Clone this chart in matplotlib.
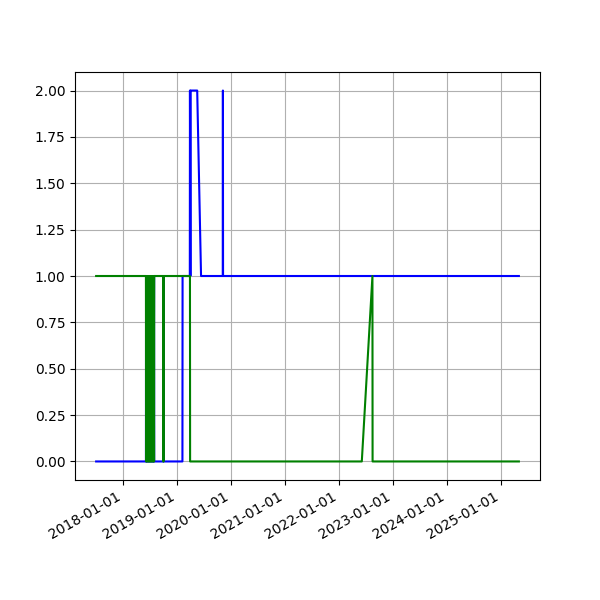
import pandas as pd
import matplotlib
matplotlib.use('Agg')
from matplotlib import pyplot as plt
import matplotlib.dates as mdates

# blue series: change points (date, value)
blue_dates = ['2017-07-01', '2018-06-03', '2018-06-04', '2018-06-07', '2018-06-10', '2018-06-13',
              '2018-06-16', '2018-06-19', '2018-06-22', '2018-06-25', '2018-06-28', '2018-07-01',
              '2018-07-04', '2018-07-07', '2018-07-10', '2018-07-13', '2018-07-16', '2018-07-19',
              '2018-07-22', '2018-07-25', '2018-07-28', '2018-07-29',
              '2018-09-27', '2018-09-28', '2018-10-01', '2018-10-02',
              '2019-02-05', '2019-02-06', '2019-03-27', '2019-03-28', '2019-03-31', '2019-04-02',
              '2019-04-05', '2019-05-16', '2019-06-11', '2019-11-05', '2019-11-06', '2019-11-07',
              '2025-05-01']
blue_vals = [0, 0, 1, 0, 1, 0,
             1, 0, 1, 0, 1, 0,
             1, 0, 1, 0, 1, 0,
             1, 0, 1, 0,
             0, 1, 1, 0,
             0, 1, 1, 2, 1, 2,
             2, 2, 1, 1, 2, 1,
             1]

# green series: change points (date, value)
green_dates = ['2017-07-01', '2018-06-03', '2018-06-04', '2018-06-07', '2018-06-10', '2018-06-13',
               '2018-06-16', '2018-06-19', '2018-06-22', '2018-06-25', '2018-06-28', '2018-07-01',
               '2018-07-04', '2018-07-07', '2018-07-10', '2018-07-13', '2018-07-16', '2018-07-19',
               '2018-07-22', '2018-07-25', '2018-07-28', '2018-07-29',
               '2018-09-27', '2018-09-28', '2018-10-01', '2018-10-02',
               '2019-03-28', '2019-03-29', '2022-06-03', '2022-08-14', '2022-08-15',
               '2025-05-01']
green_vals = [1, 1, 0, 1, 0, 1,
              0, 1, 0, 1, 0, 1,
              0, 1, 0, 1, 0, 1,
              0, 1, 0, 1,
              1, 0, 0, 1,
              1, 0, 0, 1, 0,
              0]

fig, ax = plt.subplots(figsize=(6, 6), dpi=100)
ax.plot(pd.to_datetime(blue_dates), blue_vals, color='blue')
ax.plot(pd.to_datetime(green_dates), green_vals, color='green')
ax.xaxis.set_major_locator(mdates.YearLocator())
ax.xaxis.set_major_formatter(mdates.DateFormatter('%Y-%m-%d'))
ax.grid(True)
fig.autofmt_xdate()
plt.savefig('out.png')
